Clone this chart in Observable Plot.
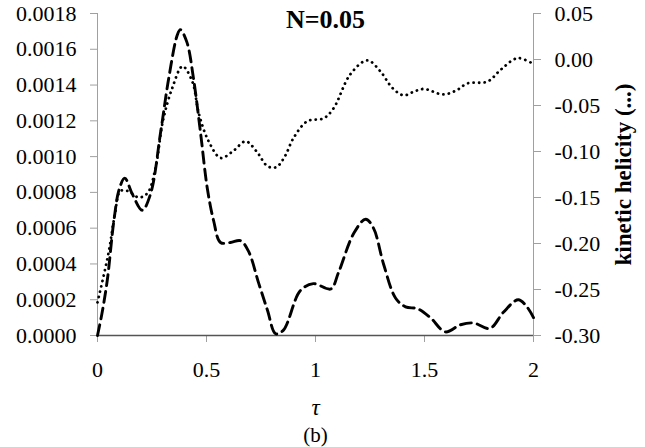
<!DOCTYPE html>
<html><head><meta charset="utf-8">
<script src="https://cdn.jsdelivr.net/npm/d3@7"></script>
<script src="https://cdn.jsdelivr.net/npm/@observablehq/plot@0.6"></script>
<style>
body{margin:0;background:#fff}
svg, svg text { font-family: "Liberation Serif", "Times New Roman", "DejaVu Serif", serif !important; }
</style>
</head><body><div id="chart"></div>
<script>
// Dashed series (left axis)
const tauDash = [0, 0.02, 0.045, 0.075, 0.1, 0.125, 0.16, 0.205, 0.243, 0.29, 0.327, 0.366, 0.38, 0.41, 0.44, 0.472, 0.504, 0.533, 0.564, 0.61, 0.656, 0.693, 0.74, 0.78, 0.817, 0.853, 0.93, 0.99, 1.07, 1.105, 1.175, 1.23, 1.266, 1.312, 1.367, 1.413, 1.468, 1.527, 1.596, 1.665, 1.725, 1.8, 1.862, 1.93, 1.97, 2.0];
const energy  = [0, 0.00012, 0.00031, 0.00064, 0.00082, 0.00088, 0.00079, 0.0007, 0.00079, 0.00114, 0.00144, 0.00168, 0.00171, 0.00164, 0.00144, 0.00114, 0.00082, 0.00064, 0.00052, 0.00052, 0.00053, 0.00047, 0.00029, 0.00014, 0.00001, 0.00003, 0.00025, 0.00029, 0.00026, 0.00035, 0.00057, 0.00065, 0.0006, 0.0004, 0.00021, 0.00016, 0.00015, 0.0001, 0.00002, 0.00006, 0.00007, 0.00004, 0.00013, 0.0002, 0.00016, 0.0001];
// Dotted series (right axis: kinetic helicity)
const tauDot = [0, 0.05, 0.08, 0.105, 0.14, 0.19, 0.23, 0.266, 0.30, 0.343, 0.39, 0.435, 0.465, 0.51, 0.565, 0.62, 0.68, 0.73, 0.78, 0.82, 0.86, 0.90, 0.963, 1.037, 1.083, 1.16, 1.238, 1.298, 1.353, 1.404, 1.45, 1.496, 1.587, 1.65, 1.697, 1.789, 1.85, 1.927, 2.0];
const helicity = [-0.264, -0.211, -0.168, -0.143, -0.143, -0.150, -0.145, -0.118, -0.067, -0.031, -0.0074, -0.024, -0.059, -0.089, -0.107, -0.100, -0.089, -0.100, -0.116, -0.117, -0.105, -0.085, -0.067, -0.064, -0.053, -0.016, -0.001, -0.013, -0.031, -0.039, -0.035, -0.032, -0.038, -0.033, -0.026, -0.024, -0.011, 0.0015, -0.005];

const leftTicks = [0, 0.0002, 0.0004, 0.0006, 0.0008, 0.0010, 0.0012, 0.0014, 0.0016, 0.0018];
const rightTicks = [0.05, 0, -0.05, -0.10, -0.15, -0.20, -0.25, -0.30];
const xTicks = [0, 0.5, 1, 1.5, 2];
const title = "N=0.05";
const rightLabel = "kinetic helicity (...)";
const xLabel = "τ";
const caption = "(b)";

const FONT = "Liberation Serif, Times New Roman, DejaVu Serif, serif";
const E0 = 0, E1 = 0.0018, H0 = -0.30, H1 = 0.05;
const toLeft = h => E0 + (h - H0) / (H1 - H0) * (E1 - E0);
const fromLeft = v => H0 + (v - E0) / (E1 - E0) * (H1 - H0);
const fmtH = v => { const h = fromLeft(v); return Math.abs(h) < 1e-9 ? "0.00" : h.toFixed(2); };

const dash = tauDash.map((t, i) => ({t, v: energy[i]}));
const dot = tauDot.map((t, i) => ({t, v: toLeft(helicity[i])}));

const chart = Plot.plot({
  width: 645, height: 447,
  marginLeft: 97, marginRight: 112, marginTop: 13, marginBottom: 112,
  style: {fontFamily: FONT, fontSize: "22px", background: "white", color: "black"},
  x: {domain: [0, 2]},
  y: {domain: [E0, E1]},
  marks: [
    Plot.ruleX([0], {stroke: "#a0a0a0", strokeWidth: 1}),
    Plot.ruleX([2], {stroke: "#a0a0a0", strokeWidth: 1}),
    Plot.axisY({anchor: "left", ticks: leftTicks, tickFormat: d => d.toFixed(4), tickSize: 7, tickPadding: 14, stroke: "#a0a0a0", fill: "black", label: null, fontFamily: FONT, fontSize: 22, fontVariant: "normal"}),
    Plot.axisY({anchor: "right", ticks: rightTicks.map(toLeft), tickFormat: fmtH, tickSize: 7, tickPadding: 14, stroke: "#a0a0a0", fill: "black", label: null, fontFamily: FONT, fontSize: 22, fontVariant: "normal"}),
    Plot.axisX({anchor: "bottom", ticks: xTicks, tickFormat: d => String(d), tickSize: 7, tickPadding: 19, stroke: "#a0a0a0", fill: "black", label: null, fontFamily: FONT, fontSize: 22, fontVariant: "normal"}),
    Plot.ruleY([0], {stroke: "#555", strokeWidth: 1.5}),
    Plot.line(dot, {x: "t", y: "v", curve: "catmull-rom", stroke: "black", strokeWidth: 2.8, strokeDasharray: "0.1 5.4", strokeLinecap: "round"}),
    Plot.line(dash, {x: "t", y: "v", curve: "catmull-rom", stroke: "black", strokeWidth: 2.9, strokeDasharray: "11 6"}),
    Plot.text([title], {frameAnchor: "top", dx: 10, dy: 6, lineAnchor: "middle", fontWeight: "bold", fontSize: 26, fontFamily: FONT, fill: "black"}),
    Plot.text([rightLabel], {frameAnchor: "right", dx: 90, rotate: -90, textAnchor: "middle", lineAnchor: "middle", fontWeight: "bold", fontSize: 23, fontFamily: FONT, fill: "black"}),
    Plot.text([xLabel], {frameAnchor: "bottom", dy: 72, lineAnchor: "middle", fontStyle: "italic", fontSize: 23, fontFamily: FONT, fill: "black"}),
    Plot.text([caption], {frameAnchor: "bottom", dy: 100, lineAnchor: "middle", fontSize: 21, fontFamily: FONT, fill: "black"})
  ]
});
document.getElementById("chart").appendChild(chart);
</script>
</body></html>
